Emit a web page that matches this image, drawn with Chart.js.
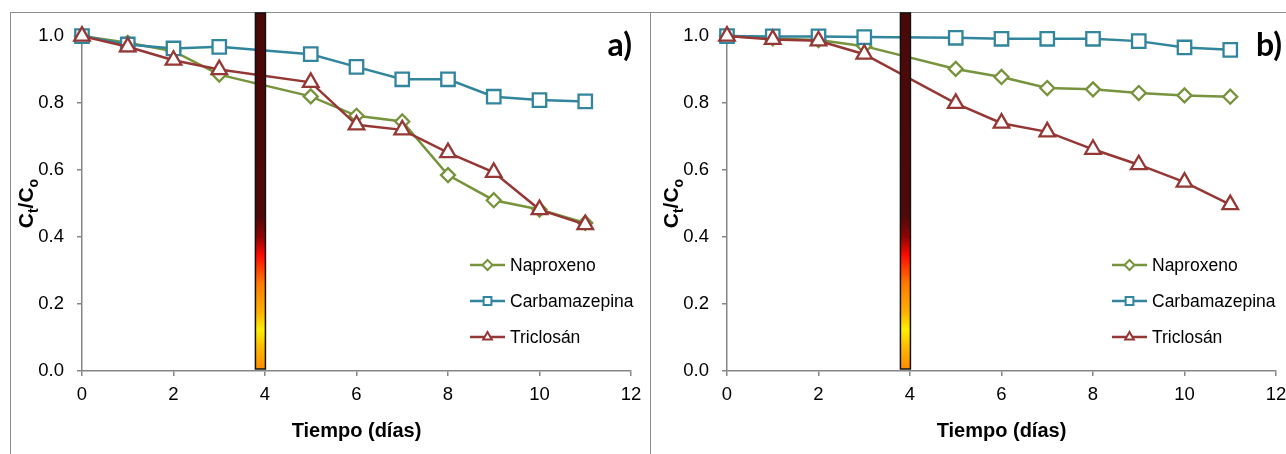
<!DOCTYPE html>
<html>
<head>
<meta charset="utf-8">
<script src="https://cdn.jsdelivr.net/npm/chart.js@4.4.0/dist/chart.umd.min.js"></script>
<style>
  body { margin: 0; background: #fff; }
  #wrap { position: relative; width: 1286px; height: 454px; overflow: hidden; background: #fff; }
  .frame { position: absolute; background: #8c8c8c; }
  .panel { position: absolute; top: 12px; width: 640px; height: 442px; }
</style>
</head>
<body>
<div id="wrap">
  <div class="frame" style="left:10px;top:12px;width:1276px;height:1px"></div>
  <div class="frame" style="left:10px;top:12px;width:1px;height:442px"></div>
  <div class="frame" style="left:650px;top:12px;width:1px;height:442px"></div>
  <div class="panel" style="left:10px"><canvas id="chartA" width="640" height="442"></canvas></div>
  <div class="panel" style="left:655px"><canvas id="chartB" width="640" height="442"></canvas></div>
</div>
<script>
// sampling days (no sample on day 4)
const days = [0, 1, 2, 3, 5, 6, 7, 8, 9, 10, 11];
const seriesNames = ['Naproxeno', 'Carbamazepina', 'Triclosán'];
const seriesColors = ['#77933C', '#31859C', '#953735'];
const seriesMarkers = ['rectRot', 'rect', 'triangle'];

// panel a)
const naproxenoA     = [1.00, 0.98, 0.955, 0.885, 0.82, 0.762, 0.745, 0.585, 0.51, 0.482, 0.442];
const carbamazepinaA = [1.00, 0.975, 0.963, 0.968, 0.946, 0.908, 0.871, 0.871, 0.819, 0.809, 0.805];
const triclosanA     = [1.00, 0.968, 0.928, 0.90, 0.862, 0.735, 0.72, 0.652, 0.593, 0.482, 0.437];

// panel b)
const naproxenoB     = [1.00, 0.993, 0.988, 0.97, 0.902, 0.878, 0.845, 0.841, 0.83, 0.823, 0.819];
const carbamazepinaB = [1.00, 0.999, 0.999, 0.997, 0.995, 0.992, 0.992, 0.992, 0.985, 0.966, 0.959];
const triclosanB     = [1.00, 0.99, 0.986, 0.946, 0.799, 0.74, 0.714, 0.662, 0.616, 0.564, 0.497];

const xTickStep = 2;
const yTickStep = 0.2;
const lampDay = 3.9;   // gradient bar position (days)

const FONT = "'Liberation Sans', Arial, sans-serif";

function toPoints(vals) {
  return vals.map((v, i) => ({ x: days[i], y: v }));
}

function drawMarker(ctx, style, x, y, r) {
  ctx.beginPath();
  if (style === 'rect') {
    const s = r * Math.SQRT1_2;
    ctx.rect(x - s, y - s, 2 * s, 2 * s);
  } else if (style === 'rectRot') {
    ctx.moveTo(x, y - r); ctx.lineTo(x + r, y); ctx.lineTo(x, y + r); ctx.lineTo(x - r, y);
    ctx.closePath();
  } else {
    const w = r * Math.sqrt(3) / 2;
    ctx.moveTo(x, y - r); ctx.lineTo(x + w, y + r / 2); ctx.lineTo(x - w, y + r / 2);
    ctx.closePath();
  }
  ctx.fill();
  ctx.stroke();
}

const panelDecor = {
  id: 'panelDecor',
  afterDatasetsDraw(chart, args, opts) {
    const ctx = chart.ctx;
    const xs = chart.scales.x, ys = chart.scales.y, area = chart.chartArea;
    ctx.save();

    // gradient bar
    const cx = xs.getPixelForValue(lampDay);
    const top = 1, bottom = ys.getPixelForValue(0) - 2;
    const g = ctx.createLinearGradient(0, top, 0, bottom);
    g.addColorStop(0, '#4a0909');
    g.addColorStop(0.57, '#4e0909');
    g.addColorStop(0.63, '#8e0505');
    g.addColorStop(0.68, '#ff0a00');
    g.addColorStop(0.76, '#ff7a00');
    g.addColorStop(0.84, '#ffb000');
    g.addColorStop(0.89, '#ffee00');
    g.addColorStop(0.94, '#ffb800');
    g.addColorStop(1, '#ff8c00');
    ctx.fillStyle = g;
    ctx.fillRect(cx - 5, top, 10, bottom - top);
    ctx.strokeStyle = '#111';
    ctx.lineWidth = 1.5;
    ctx.strokeRect(cx - 5, top, 10, bottom - top);

    // panel letter
    ctx.fillStyle = '#000';
    ctx.font = "bold 32px Lato, 'Open Sans', sans-serif";
    ctx.textAlign = 'right';
    ctx.textBaseline = 'alphabetic';
    ctx.fillText(opts.letter, area.right + opts.letterDx, 44);

    // legend
    const lx = area.right - opts.legendDx;
    const rows = [253, 289, 325];
    seriesNames.forEach((name, i) => {
      const y = rows[i];
      ctx.strokeStyle = seriesColors[i];
      ctx.lineWidth = 2.5;
      ctx.beginPath();
      ctx.moveTo(lx, y); ctx.lineTo(lx + 35, y);
      ctx.stroke();
      ctx.fillStyle = '#fff';
      ctx.lineWidth = 2;
      drawMarker(ctx, seriesMarkers[i], lx + 17.5, y, i === 1 ? 5.5 : 5);
      ctx.fillStyle = '#000';
      ctx.font = '17.5px ' + FONT;
      ctx.textAlign = 'left';
      ctx.textBaseline = 'middle';
      ctx.fillText(name, lx + 40, y + 1);
    });

    // x title
    ctx.fillStyle = '#000';
    ctx.font = 'bold 20px ' + FONT;
    ctx.textAlign = 'center';
    ctx.textBaseline = 'alphabetic';
    ctx.fillText('Tiempo (días)', (area.left + area.right) / 2, 425);

    // y title: Ct/Co with subscripts
    ctx.translate(23, (area.top + area.bottom) / 2);
    ctx.rotate(-Math.PI / 2);
    const big = 'bold 21px ' + FONT, small = 'bold 14px ' + FONT;
    const parts = [['C', big, 0], ['t', small, 5], ['/C', big, 0], ['o', small, 5]];
    let total = 0;
    parts.forEach(p => { ctx.font = p[1]; total += ctx.measureText(p[0]).width; });
    let px = -total / 2;
    ctx.textAlign = 'left';
    parts.forEach(p => {
      ctx.font = p[1];
      ctx.fillText(p[0], px, p[2]);
      px += ctx.measureText(p[0]).width;
    });
    ctx.restore();
  }
};

function makeChart(id, nap, carb, tric, letter, letterDx, legendDx) {
  const sets = [nap, carb, tric];
  const orders = [2, 1, 0];
  const radii = [7, 9.5, 9];
  new Chart(document.getElementById(id), {
    type: 'line',
    data: {
      datasets: sets.map((vals, i) => ({
        label: seriesNames[i],
        data: toPoints(vals),
        borderColor: seriesColors[i],
        backgroundColor: '#fff',
        borderWidth: 2.5,
        pointStyle: seriesMarkers[i],
        pointRadius: radii[i],
        pointBorderWidth: 2.3,
        pointBackgroundColor: '#fff',
        pointBorderColor: seriesColors[i],
        tension: 0,
        clip: false,
        order: orders[i]
      }))
    },
    options: {
      responsive: false,
      animation: false,
      events: [],
      layout: { padding: { top: 21, right: 19, left: 0, bottom: 0 } },
      plugins: {
        legend: { display: false },
        tooltip: { enabled: false },
        panelDecor: { letter: letter, letterDx: letterDx, legendDx: legendDx }
      },
      scales: {
        x: {
          type: 'linear', min: 0, max: 12,
          ticks: { stepSize: xTickStep, color: '#000', font: { family: FONT, size: 18.5 }, padding: 8 },
          grid: { drawOnChartArea: false, tickLength: 5, color: '#868686', lineWidth: 1.5 },
          border: { color: '#868686', width: 1.5 },
          afterFit: s => { s.height = 83; }
        },
        y: {
          min: 0, max: 1,
          ticks: {
            stepSize: yTickStep, color: '#000', font: { family: FONT, size: 18.5 }, padding: 13,
            callback: v => v.toFixed(1)
          },
          grid: { drawOnChartArea: false, tickLength: 5, color: '#868686', lineWidth: 1.5 },
          border: { color: '#868686', width: 1.5 },
          afterFit: s => { s.width = 72; }
        }
      }
    },
    plugins: [panelDecor]
  });
}

makeChart('chartA', naproxenoA, carbamazepinaA, triclosanA, 'a)', 1, 161);
makeChart('chartB', naproxenoB, carbamazepinaB, triclosanB, 'b)', 6, 164);
</script>
</body>
</html>
